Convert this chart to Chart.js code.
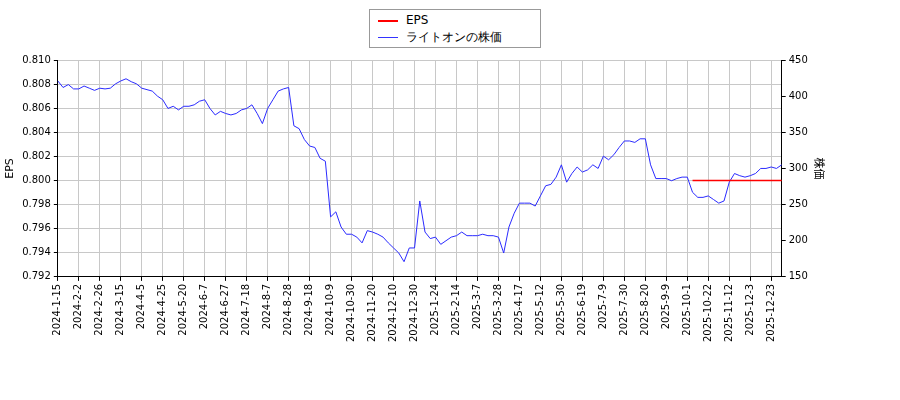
<!DOCTYPE html>
<html>
<head>
<meta charset="utf-8">
<script src="https://cdn.jsdelivr.net/npm/chart.js@4"></script>
<style>
  body { margin: 0; background: #fff; font-family: "DejaVu Sans", sans-serif; }
  #wrap { position: relative; width: 900px; height: 400px; }
  #legend { position: absolute; left: 369px; top: 9px; width: 172px; height: 39px; border: 1px solid #999;
    font-size: 12px; box-sizing: border-box; padding: 2px 8px; background: #fff; z-index: 2; }
  #legend div { height: 17px; line-height: 17px; }
  #legend span { display: inline-block; width: 20px; height: 0; vertical-align: middle; margin-right: 8px; border-top: 2px solid; }
</style>
</head>
<body>
<div id="wrap">
  <div id="legend">
    <div><span style="border-color:#ff0000"></span>EPS</div>
    <div><span style="border-color:#3333ff;border-top-width:1px"></span>ライトオンの株価</div>
  </div>
  <canvas id="c" width="900" height="400"></canvas>
</div>
<script>
const tickLabels = ["2024-1-15","2024-2-2","2024-2-26","2024-3-15","2024-4-5","2024-4-25","2024-5-20","2024-6-7",
  "2024-6-27","2024-7-18","2024-8-7","2024-8-28","2024-9-18","2024-10-9","2024-10-30","2024-11-20","2024-12-10",
  "2024-12-30","2025-1-24","2025-2-14","2025-3-7","2025-3-28","2025-4-17","2025-5-12","2025-5-30","2025-6-19",
  "2025-7-9","2025-7-30","2025-8-20","2025-9-9","2025-10-1","2025-10-22","2025-11-12","2025-12-3","2025-12-23"];
const stepPerTick = 4;

const price = [
  421,412,416,410, 410,414,411,408, 411,410,411,417, 421,424,420,417,
  411,409,407,400, 395,383,386,381, 386,386,388,393, 395,383,374,379,
  376,374,376,381, 383,388,376,362, 383,395,407,410, 412,359,355,340,
  331,329,314,310, 233,240,219,209, 209,205,197,214, 212,209,205,197,
  190,183,171,190, 190,255,212,203, 205,195,200,205, 207,212,207,207,
  207,209,207,207, 205,183,219,238, 252,252,252,248, 262,276,278,288,
  305,281,293,302, 295,298,305,300, 317,312,319,329, 338,338,336,341,
  341,305,286,286, 286,283,286,288, 288,267,260,260, 262,257,252,255,
  281,293,290,288, 290,293,300,300, 302,300,305
];
const epsStart = 121;
const epsValue = 0.800;

const labels = price.map((_, i) => i % stepPerTick === 0 ? (tickLabels[i / stepPerTick] || "") : "");
const eps = price.map((_, i) => i >= epsStart ? epsValue : null);

const font = { family: "DejaVu Sans", size: 10 };
const onTick = (ctx, c) => (labels[ctx.index] ? c : "rgba(0,0,0,0)");
new Chart(document.getElementById("c"), {
  type: "line",
  data: {
    labels,
    datasets: [
      { label: "EPS", data: eps, borderColor: "#ff0000", borderWidth: 1.5, pointRadius: 0, yAxisID: "y" },
      { label: "ライトオンの株価", data: price, borderColor: "#2b2bff", borderWidth: 1, pointRadius: 0, yAxisID: "y1" }
    ]
  },
  options: {
    responsive: false,
    animation: false,
    layout: { padding: { top: 60, bottom: 55, left: 2, right: 72 } },
    plugins: { legend: { display: false }, tooltip: { enabled: false } },
    scales: {
      x: {
        offset: false,
        grid: { color: ctx => onTick(ctx, "#c8c8c8"), tickColor: ctx => onTick(ctx, "#000"), tickLength: 4 },
        border: { color: "#000" },
        ticks: { autoSkip: false, maxRotation: 90, minRotation: 90, color: "#000", font,
          callback: (v, i) => labels[i] },
      },
      y: {
        position: "left", min: 0.792, max: 0.810,
        title: { display: true, text: "EPS", color: "#000", font: { family: "DejaVu Sans", size: 11 }, padding: 2 },
        ticks: { stepSize: 0.002, color: "#000", font, callback: v => v.toFixed(3) },
        grid: { color: "#c8c8c8", tickColor: "#000", tickLength: 4 },
        border: { color: "#000" }
      },
      y1: {
        position: "right", min: 150, max: 450,
        title: { display: true, text: "株価", color: "#000", font: { family: "Noto Sans CJK JP", size: 11 }, padding: 2 },
        ticks: { stepSize: 50, color: "#000", font },
        grid: { drawOnChartArea: false, tickColor: "#000", tickLength: 4 },
        border: { color: "#000" }
      }
    }
  }
});
</script>
</body>
</html>
